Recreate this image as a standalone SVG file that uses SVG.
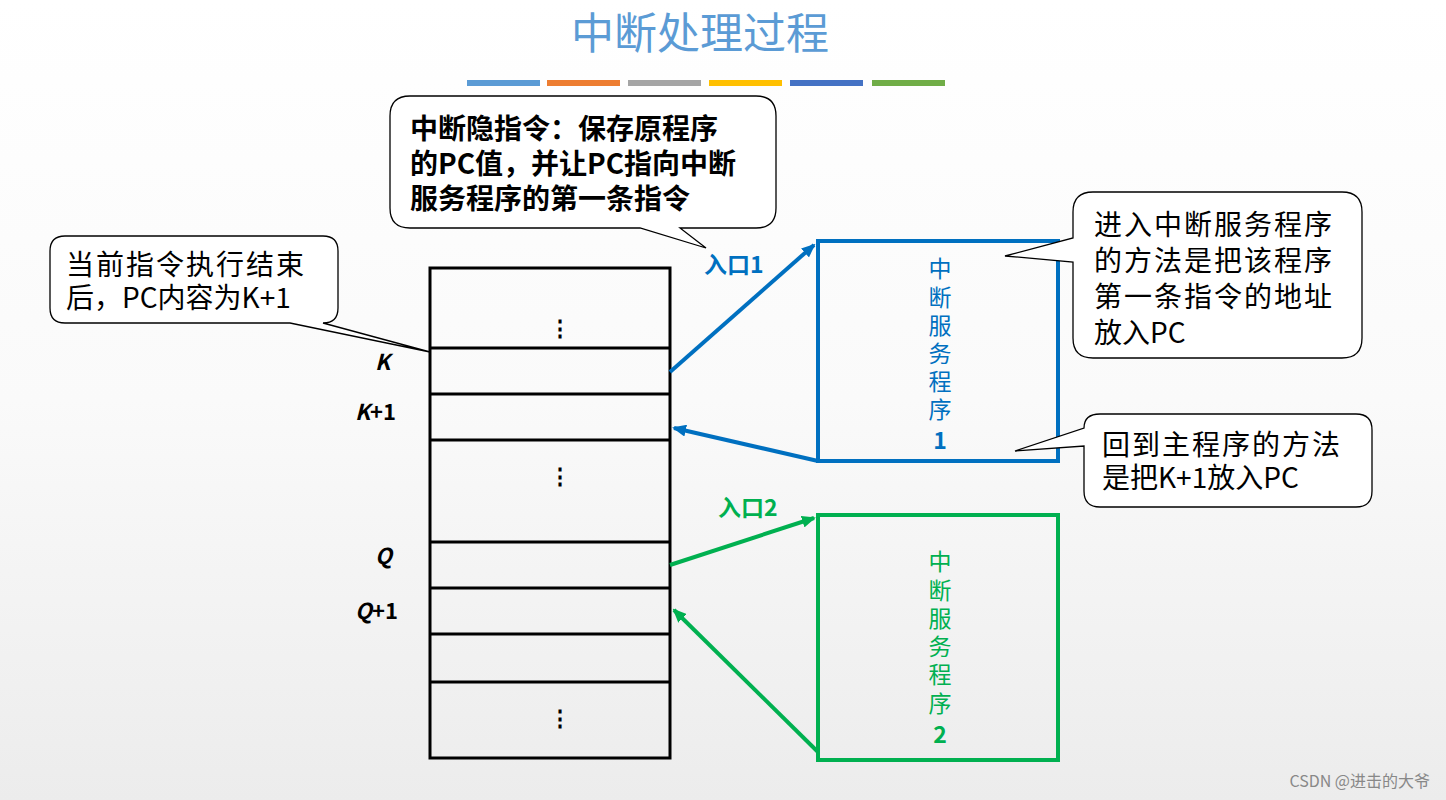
<svg xmlns="http://www.w3.org/2000/svg" width="1446" height="800" viewBox="0 0 1446 800">
<defs>
<linearGradient id="bg" x1="0" y1="0" x2="0" y2="1"><stop offset="0" stop-color="#ffffff"/><stop offset="0.5" stop-color="#fafafa"/><stop offset="1" stop-color="#ececec"/></linearGradient>
<marker id="ab" markerWidth="14" markerHeight="12" refX="12" refY="6" orient="auto" markerUnits="userSpaceOnUse" viewBox="0 0 14 12"><path d="M0,0 L14,6 L0,12 Z" fill="#0070c0"/></marker>
<marker id="ag" markerWidth="14" markerHeight="12" refX="12" refY="6" orient="auto" markerUnits="userSpaceOnUse" viewBox="0 0 14 12"><path d="M0,0 L14,6 L0,12 Z" fill="#00b050"/></marker>
<style>
text{font-family:"Noto Sans CJK SC","Open Sans",sans-serif}
.call{fill:#fff;stroke:#000;stroke-width:1.3}
.ct{font-size:28px;fill:#000}
.ctb{font-size:28px;font-weight:bold;fill:#000}
.lbl{font-size:22px;font-weight:bold;font-style:italic;fill:#000}
.mem{fill:none;stroke:#000;stroke-width:3}
.vb{font-size:23px;fill:#0070c0;text-anchor:middle}
.vg{font-size:23px;fill:#00b050;text-anchor:middle}
</style>
</defs>
<rect width="1446" height="800" fill="url(#bg)"/>
<text x="700" y="49" font-size="43" fill="#5b9bd5" text-anchor="middle">中断处理过程</text>
<g id="bars">
<rect x="467" y="80" width="73" height="6" fill="#5b9bd5"/>
<rect x="547" y="80" width="73" height="6" fill="#ed7d31"/>
<rect x="628" y="80" width="73" height="6" fill="#a5a5a5"/>
<rect x="709" y="80" width="73" height="6" fill="#ffc000"/>
<rect x="790" y="80" width="73" height="6" fill="#4472c4"/>
<rect x="872" y="80" width="73" height="6" fill="#70ad47"/>
</g>
<g id="memory">
<rect class="mem" x="430" y="268" width="240" height="490"/>
<path class="mem" d="M430,348H670M430,394H670M430,440H670M430,542H670M430,588H670M430,634H670M430,682H670"/>
<text x="560" y="336" font-size="22" text-anchor="middle" font-weight="bold">⋮</text>
<text x="560" y="484" font-size="22" text-anchor="middle" font-weight="bold">⋮</text>
<text x="560" y="726" font-size="22" text-anchor="middle" font-weight="bold">⋮</text>
<text class="lbl" x="375" y="370">K</text>
<text class="lbl" x="355" y="420">K<tspan font-style="normal">+1</tspan></text>
<text class="lbl" x="375" y="564">Q</text>
<text class="lbl" x="355" y="619">Q<tspan font-style="normal">+1</tspan></text>
</g>
<g id="isr1">
<rect x="818" y="241" width="240" height="220" fill="none" stroke="#0070c0" stroke-width="4"/>
<text class="vb"><tspan x="940" y="277">中</tspan><tspan x="940" y="306">断</tspan><tspan x="940" y="334">服</tspan><tspan x="940" y="362">务</tspan><tspan x="940" y="390">程</tspan><tspan x="940" y="418">序</tspan><tspan x="940" y="449" font-weight="bold">1</tspan></text>
</g>
<g id="isr2">
<rect x="818" y="515" width="240" height="245" fill="none" stroke="#00b050" stroke-width="4"/>
<text class="vg"><tspan x="940" y="570">中</tspan><tspan x="940" y="599">断</tspan><tspan x="940" y="627">服</tspan><tspan x="940" y="655">务</tspan><tspan x="940" y="683">程</tspan><tspan x="940" y="712">序</tspan><tspan x="940" y="743" font-weight="bold">2</tspan></text>
</g>
<g id="connectors">
<line x1="670" y1="372" x2="814" y2="245" stroke="#0070c0" stroke-width="4" marker-end="url(#ab)"/>
<line x1="818" y1="461" x2="674" y2="428" stroke="#0070c0" stroke-width="4" marker-end="url(#ab)"/>
<line x1="670" y1="565" x2="814" y2="518" stroke="#00b050" stroke-width="4" marker-end="url(#ag)"/>
<line x1="818" y1="752" x2="674" y2="610" stroke="#00b050" stroke-width="4" marker-end="url(#ag)"/>
<text x="704" y="273" font-size="23" fill="#0070c0" font-weight="bold">入口1</text>
<text x="718" y="516" font-size="23" fill="#00b050" font-weight="bold">入口2</text>
</g>
<g id="callout1">
<path class="call" d="M65,236H323Q338,236 338,251V308Q338,323 323,323L430,352L290,323H65Q50,323 50,308V251Q50,236 65,236Z"/>
<text class="ct" x="66" y="275" textLength="238" lengthAdjust="spacing">当前指令执行结束</text>
<text class="ct" x="66" y="308">后，PC内容为K+1</text>
</g>
<g id="callout2">
<path class="call" d="M410,96H756Q776,96 776,116V208Q776,228 756,228H680L706,248L640,228H410Q390,228 390,208V116Q390,96 410,96Z"/>
<text class="ctb" x="410" y="139">中断隐指令：保存原程序</text>
<text class="ctb" x="410" y="174">的PC值，并让PC指向中断</text>
<text class="ctb" x="410" y="209">服务程序的第一条指令</text>
</g>
<g id="callout3">
<path class="call" d="M1093,192H1342Q1362,192 1362,212V338Q1362,358 1342,358H1093Q1073,358 1073,338V262L1005,256L1073,238V212Q1073,192 1093,192Z"/>
<text class="ct" x="1094" y="235" textLength="238" lengthAdjust="spacing">进入中断服务程序</text>
<text class="ct" x="1094" y="271" textLength="238" lengthAdjust="spacing">的方法是把该程序</text>
<text class="ct" x="1094" y="307" textLength="238" lengthAdjust="spacing">第一条指令的地址</text>
<text class="ct" x="1094" y="343">放入PC</text>
</g>
<g id="callout4">
<path class="call" d="M1100,414H1356Q1372,414 1372,430V491Q1372,507 1356,507H1100Q1084,507 1084,491V446L1015,451L1084,428Q1084,414 1100,414Z"/>
<text class="ct" x="1102" y="455" textLength="238" lengthAdjust="spacing">回到主程序的方法</text>
<text class="ct" x="1102" y="488">是把K+1放入PC</text>
</g>
<text x="1430" y="787" font-size="16" fill="#888" text-anchor="end">CSDN @进击的大爷</text>
</svg>
